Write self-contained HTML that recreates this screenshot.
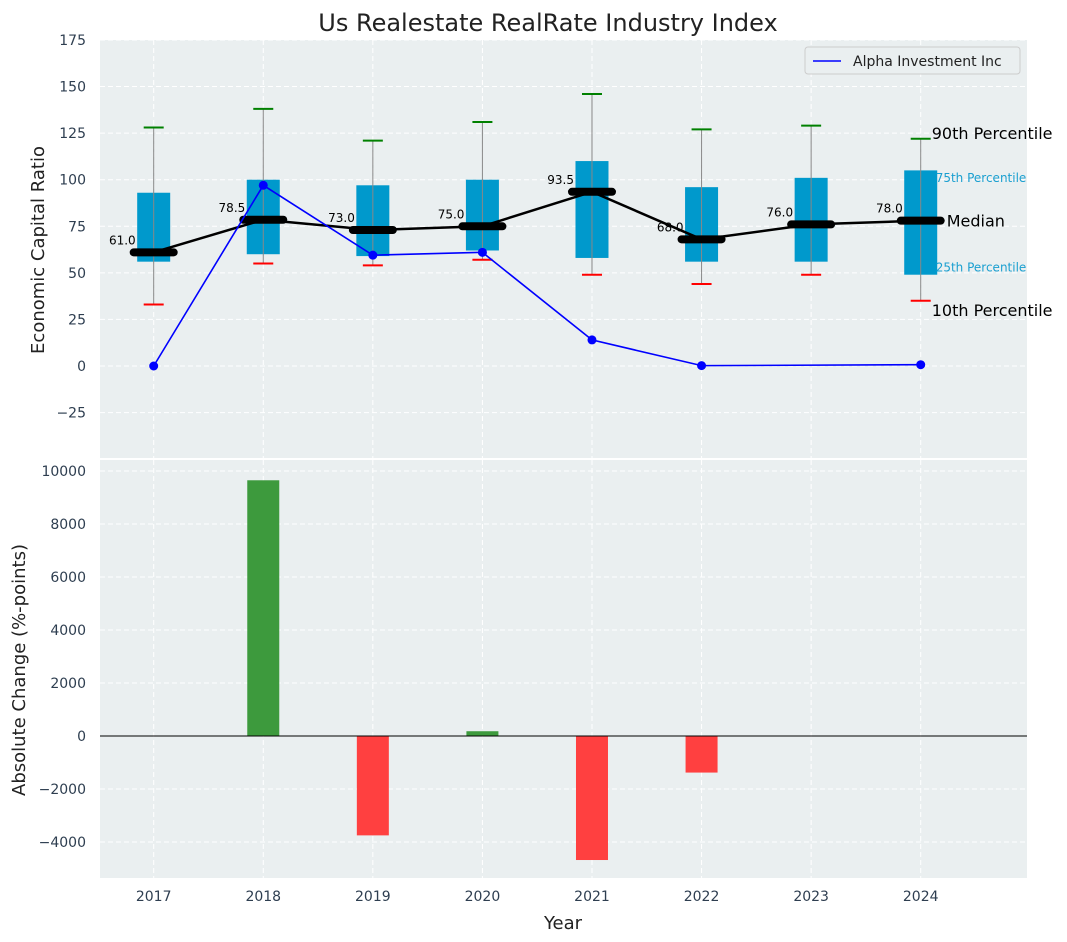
<!DOCTYPE html>
<html><head><meta charset="utf-8"><style>body{margin:0;background:#fff}svg{display:block;font-family:"DejaVu Sans","Liberation Sans",sans-serif}</style></head>
<body>
<svg id="c" width="1067" height="942" xmlns="http://www.w3.org/2000/svg"></svg>
<script>
const years=[2017,2018,2019,2020,2021,2022,2023,2024];
const p10=[33,55,54,57,49,44,49,35];
const p25=[56,60,59,62,58,56,56,49];
const med=[61,78.5,73,75,93.5,68,76,78];
const p75=[93,100,97,100,110,96,101,105];
const p90=[128,138,121,131,146,127,129,122];
const alpha=[0,97,59.5,61,14,0.2,null,0.7];
const changes=[null,9650,-3750,180,-4680,-1380,null,null];
const topTicks=[-25,0,25,50,75,100,125,150,175];
const botTicks=[-4000,-2000,0,2000,4000,6000,8000,10000];

const NS="http://www.w3.org/2000/svg";
const svg=document.getElementById('c');
function el(t,a,txt){const e=document.createElementNS(NS,t);for(const k in a)e.setAttribute(k,a[k]);if(txt!=null)e.textContent=txt;svg.appendChild(e);return e;}
const L=100,R=1027;
const x=v=>L+(v-2016.51)/(2024.97-2016.51)*(R-L);
const T0=40,T1=458,B0=460,B1=878;
const yT=v=>366-v*1.863;
const yB=v=>736-v*0.0265;

let e;
e=el('rect',{x:L,y:T0,width:R-L,height:T1-T0,fill:'#eaeff0'});

e=el('rect',{x:L,y:B0,width:R-L,height:B1-B0,fill:'#eaeff0'});

years.forEach(yr=>{
 e=el('line',{x1:x(yr),x2:x(yr),y1:T0,y2:T1,stroke:'#fff','stroke-dasharray':'5,3'});
 
 e=el('line',{x1:x(yr),x2:x(yr),y1:B0,y2:B1,stroke:'#fff','stroke-dasharray':'5,3'});
 
 e=el('text',{x:x(yr),y:901,'text-anchor':'middle','font-size':14,fill:'#2e3e50'},yr);
 
});
topTicks.forEach(t=>{
 e=el('line',{x1:L,x2:R,y1:yT(t),y2:yT(t),stroke:'#fff','stroke-dasharray':'5,3'});
 
 e=el('text',{x:86,y:yT(t)+5,'text-anchor':'end','font-size':14,fill:'#2e3e50'},t<0?'\u2212'+(-t):t);
 
});
botTicks.forEach(t=>{
 e=el('line',{x1:L,x2:R,y1:yB(t),y2:yB(t),stroke:'#fff','stroke-dasharray':'5,3'});
 
 e=el('text',{x:86,y:yB(t)+5,'text-anchor':'end','font-size':14,fill:'#2e3e50'},t<0?'\u2212'+(-t):t);
 
});
years.forEach((yr,i)=>{
 const cx=x(yr);
 e=el('rect',{x:cx-16.5,y:yT(p75[i]),width:33,height:yT(p25[i])-yT(p75[i]),fill:'#0099cc'});
 
 e=el('line',{x1:cx,x2:cx,y1:yT(p90[i]),y2:yT(p10[i]),stroke:'#888','stroke-width':1});
 
 e=el('line',{x1:cx-10,x2:cx+10,y1:yT(p90[i]),y2:yT(p90[i]),stroke:'green','stroke-width':2});
 
 e=el('line',{x1:cx-10,x2:cx+10,y1:yT(p10[i]),y2:yT(p10[i]),stroke:'red','stroke-width':2});
 
});
e=el('polyline',{points:years.map((yr,i)=>x(yr)+','+yT(med[i])).join(' '),fill:'none',stroke:'#000','stroke-width':2.5});

years.forEach((yr,i)=>{
 const cx=x(yr);
 e=el('line',{x1:cx-20,x2:cx+20,y1:yT(med[i]),y2:yT(med[i]),stroke:'#000','stroke-width':8,'stroke-linecap':'round'});
 
 e=el('text',{x:cx-18,y:yT(med[i])-8,'text-anchor':'end','font-size':12,fill:'#000'},med[i].toFixed(1));
 
});
let pts=[];years.forEach((yr,i)=>{if(alpha[i]!=null)pts.push(x(yr)+','+yT(alpha[i]));});
e=el('polyline',{points:pts.join(' '),fill:'none',stroke:'#0000ff','stroke-width':1.6});

years.forEach((yr,i)=>{if(alpha[i]==null)return;
 e=el('circle',{cx:x(yr),cy:yT(alpha[i]),r:4.5,fill:'#0000ff'});
 });
const li=7,c24=x(2024);
[['90th Percentile',p90[li]+3,16,'#000',11],['75th Percentile',p75[li]-4,12,'#1a9fd0',15],['Median',med[li],16,'#000',26],['25th Percentile',p25[li]+4,12,'#1a9fd0',15],['10th Percentile',p10[li]-5,16,'#000',11]].forEach(a=>{
 e=el('text',{x:c24+a[4],y:yT(a[1])+(a[2]==16?6:4),'font-size':a[2],fill:a[3]},a[0]);
 
});
e=el('rect',{x:805,y:47,width:215,height:27,fill:'#eaeff0',stroke:'#ccc',rx:3});

e=el('line',{x1:813,x2:841,y1:61,y2:61,stroke:'#0000ff','stroke-width':1.6});

e=el('text',{x:853,y:66,'font-size':14,fill:'#222'},'Alpha Investment Inc');

years.forEach((yr,i)=>{if(changes[i]==null)return;const v=changes[i];
 e=el('rect',{x:x(yr)-16,y:Math.min(yB(v),yB(0)),width:32,height:Math.abs(yB(v)-yB(0)),fill:v>=0?'#3d9a3d':'#ff4040'});
 });
e=el('line',{x1:L,x2:R,y1:yB(0),y2:yB(0),stroke:'#000','stroke-width':1});

e=el('text',{x:548,y:31,'text-anchor':'middle','font-size':24,fill:'#222'},'Us Realestate RealRate Industry Index');

e=el('text',{x:0,y:0,'text-anchor':'middle','font-size':18,fill:'#222',transform:'translate(44,250) rotate(-90)'},'Economic Capital Ratio');

e=el('text',{x:0,y:0,'text-anchor':'middle','font-size':18,fill:'#222',transform:'translate(25,670) rotate(-90)'},'Absolute Change (%-points)');

e=el('text',{x:563,y:929,'text-anchor':'middle','font-size':18,fill:'#222'},'Year');

</script>
</body></html>
